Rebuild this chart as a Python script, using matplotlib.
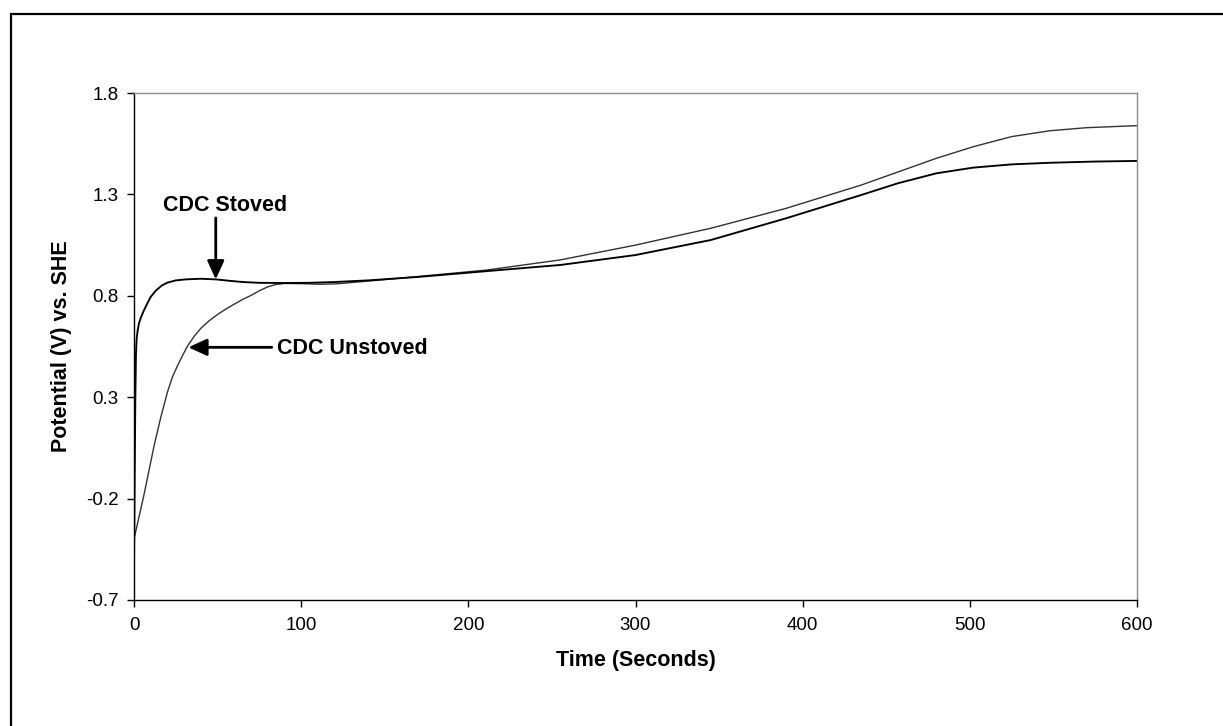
import matplotlib
matplotlib.use("Agg")
import matplotlib.pyplot as plt
from matplotlib.patches import Rectangle

plt.rcParams["font.family"] = ["Liberation Sans", "DejaVu Sans"]

# Potential transients (V vs. SHE) against time (s)
stoved_t = [0, 0.4, 0.8, 1.2, 1.6, 2.2, 3, 4, 5.5, 7.5, 10, 13, 16.5, 20, 25, 31,
            40, 49, 57, 65, 75, 90, 105, 120, 140, 170, 210, 255, 300, 345, 390,
            435, 457, 480, 502, 525, 548, 575, 600]
stoved_v = [-0.55, -0.10, 0.30, 0.52, 0.59, 0.63, 0.665, 0.69, 0.72, 0.755, 0.795,
            0.825, 0.85, 0.865, 0.876, 0.881, 0.884, 0.881, 0.874, 0.868, 0.864,
            0.863, 0.864, 0.868, 0.876, 0.893, 0.921, 0.952, 1.001, 1.075, 1.182,
            1.297, 1.355, 1.404, 1.432, 1.448, 1.456, 1.462, 1.465]

unstoved_t = [0, 3, 6, 9, 12, 16, 20, 23, 26, 29, 32, 36, 40, 45, 50, 55, 60, 65,
              70, 75, 80, 85, 90, 100, 111, 121, 131, 150, 171, 211, 255, 300, 345,
              390, 435, 480, 502, 525, 548, 570, 600]
unstoved_v = [-0.40, -0.29, -0.18, -0.06, 0.06, 0.20, 0.325, 0.40, 0.455, 0.505,
              0.552, 0.60, 0.640, 0.677, 0.708, 0.735, 0.759, 0.782, 0.802, 0.825,
              0.844, 0.856, 0.861, 0.860, 0.857, 0.859, 0.866, 0.880, 0.896, 0.927,
              0.977, 1.050, 1.133, 1.231, 1.346, 1.478, 1.535, 1.585, 1.614, 1.629,
              1.639]

x_ticks = [0, 100, 200, 300, 400, 500, 600]
y_ticks = [-0.7, -0.2, 0.3, 0.8, 1.3, 1.8]
y_tick_labels = ["-0.7", "-0.2", "0.3", "0.8", "1.3", "1.8"]

# Annotation anchors: (text position, arrow tail, arrow tip) in data units
stoved_label = ("CDC Stoved", (17.3, 1.244), (48.9, 1.184), (48.9, 0.881))
unstoved_label = ("CDC Unstoved", (85.3, 0.540), (82.4, 0.546), (32.5, 0.546))

W, H, DPI = 1223, 726, 100
fig = plt.figure(figsize=(W / DPI, H / DPI), dpi=DPI)
fig.patch.set_facecolor("white")

# Chart area frame (runs past the right and bottom edges)
fig.patches.append(Rectangle((11 / W, -0.2), 1.2, 1.2 - 14 / H,
                             transform=fig.transFigure, fill=False,
                             edgecolor="black", linewidth=1.6))

ax = fig.add_axes([134 / W, 1 - 600 / H, (1137 - 134) / W, (600 - 93) / H])

ax.plot(unstoved_t, unstoved_v, color="#333333", linewidth=1.0)
ax.plot(stoved_t, stoved_v, color="black", linewidth=1.35)

ax.set_xlim(0, 600)
ax.set_ylim(-0.7, 1.8)
ax.set_xticks(x_ticks)
ax.set_yticks(y_ticks)
ax.set_yticklabels(y_tick_labels)

for side in ("top", "right"):
    ax.spines[side].set_color("#8c8c8c")
    ax.spines[side].set_linewidth(1.0)
for side in ("left", "bottom"):
    ax.spines[side].set_color("black")
    ax.spines[side].set_linewidth(1.0)

ax.tick_params(direction="out", length=5, width=1.0, labelsize=13.5,
               colors="black", pad=6)
ax.tick_params(axis="x", pad=7)

ax.set_xlabel("Time (Seconds)", fontsize=15.5, fontweight="bold", labelpad=12)
ax.set_ylabel("Potential (V) vs. SHE", fontsize=15.5, fontweight="bold", labelpad=10)

for text, pos, tail, tip in (stoved_label, unstoved_label):
    ax.text(pos[0], pos[1], text, fontsize=15.5, fontweight="bold",
            ha="left", va="center")
    ax.annotate("", xy=tip, xytext=tail,
                arrowprops=dict(arrowstyle="-|>,head_length=0.7,head_width=0.32",
                                color="black", lw=2.0, mutation_scale=16,
                                shrinkA=0, shrinkB=0))

fig.savefig("out.png", dpi=DPI, facecolor="white")
